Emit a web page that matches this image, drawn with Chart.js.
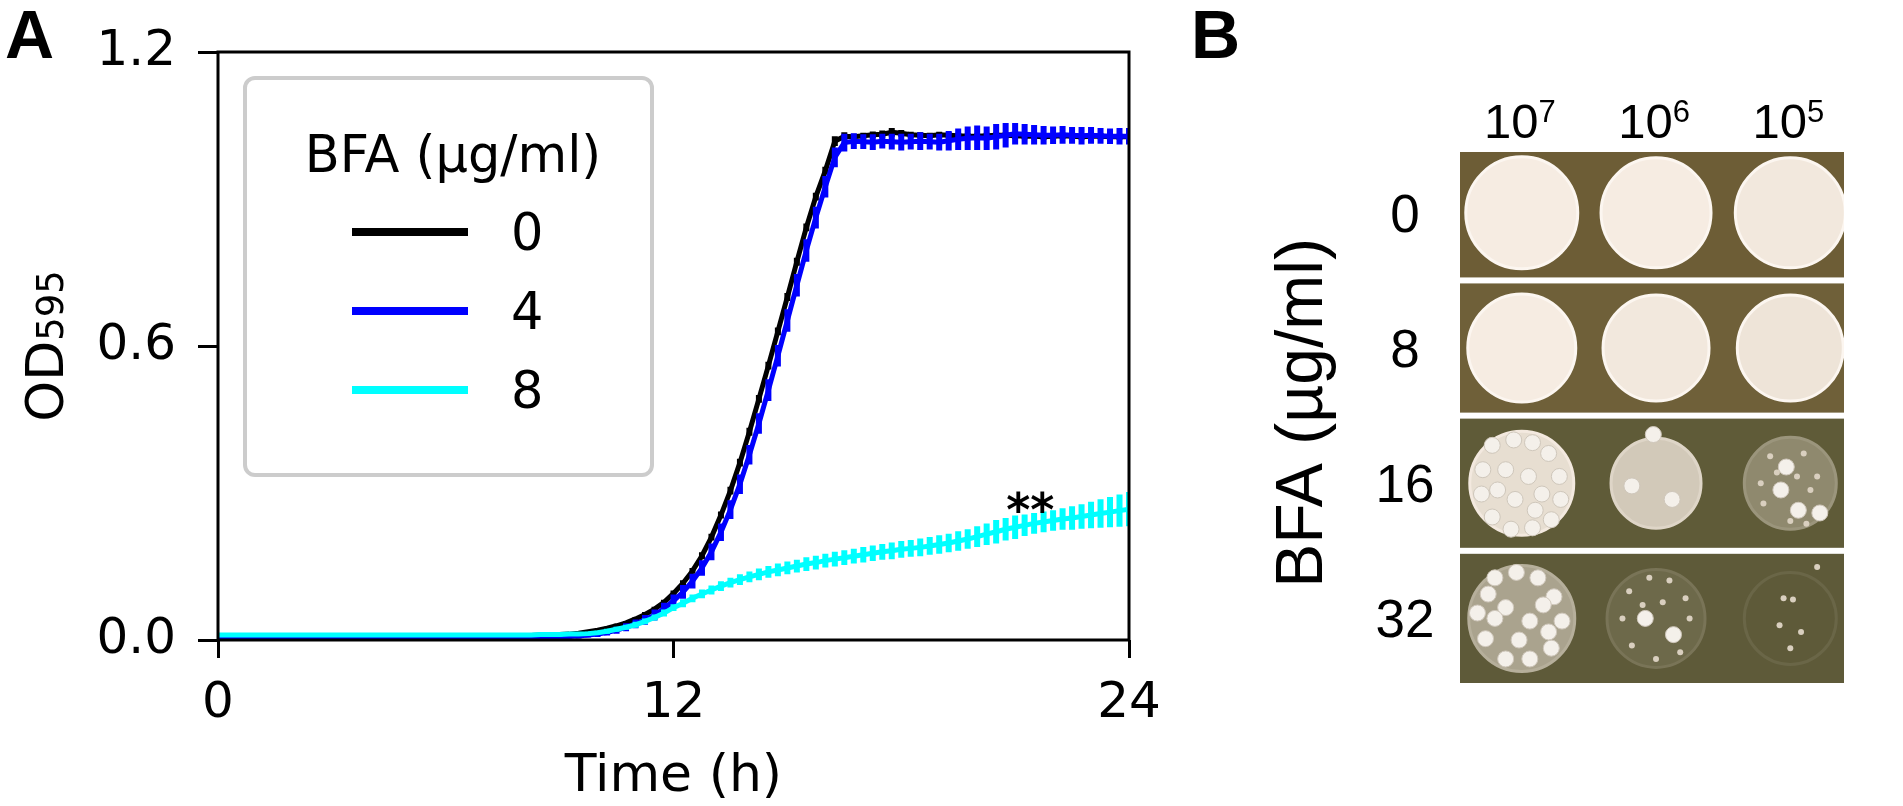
<!DOCTYPE html>
<html>
<head>
<meta charset="utf-8">
<title>BFA growth curves and spot assay</title>
<script src="https://cdn.jsdelivr.net/npm/chart.js@4.4.1/dist/chart.umd.min.js"></script>
<style>
  html, body { margin: 0; padding: 0; background: #fff; }
  body { width: 1903px; height: 806px; position: relative; overflow: hidden; }
  #growth { position: absolute; left: 0; top: 0; }
  #spots { position: absolute; left: 1180px; top: 0; }
</style>
</head>
<body>
<canvas id="growth" width="1180" height="806"></canvas>
<canvas id="spots" width="723" height="806"></canvas>
<script>
// ==========================================
// A. DATA - growth curves (OD595, reading every 15 min)
// ==========================================
const hours = Array.from({ length: 97 }, (_, i) => i * 0.25);
const bfaLegend = ['0', '4', '8'];

const od_bfa0 = [
  0.006, 0.006, 0.006, 0.006, 0.006, 0.006, 0.006, 0.006,
  0.006, 0.006, 0.006, 0.006, 0.006, 0.006, 0.006, 0.006,
  0.006, 0.006, 0.006, 0.006, 0.006, 0.006, 0.006, 0.006,
  0.006, 0.006, 0.006, 0.007, 0.007, 0.007, 0.008, 0.008,
  0.009, 0.009, 0.010, 0.010, 0.011, 0.012, 0.014, 0.017,
  0.020, 0.024, 0.029, 0.035, 0.043, 0.052, 0.063, 0.077,
  0.095, 0.116, 0.141, 0.172, 0.210, 0.255, 0.305, 0.362,
  0.425, 0.492, 0.560, 0.630, 0.700, 0.772, 0.842, 0.905,
  0.958, 1.018, 1.028, 1.027, 1.029, 1.031, 1.032, 1.036,
  1.034, 1.031, 1.030, 1.029, 1.031, 1.030, 1.029, 1.028,
  1.028, 1.029, 1.030, 1.030, 1.029, 1.028, 1.028, 1.027,
  1.028, 1.029, 1.028, 1.027, 1.028, 1.028, 1.027, 1.027,
  1.027
];
const sd_bfa0 = [
  0.002, 0.002, 0.002, 0.002, 0.002, 0.002, 0.002, 0.002,
  0.002, 0.002, 0.002, 0.002, 0.002, 0.002, 0.002, 0.002,
  0.002, 0.002, 0.002, 0.002, 0.002, 0.002, 0.002, 0.002,
  0.002, 0.002, 0.002, 0.002, 0.002, 0.002, 0.002, 0.002,
  0.002, 0.002, 0.002, 0.002, 0.003, 0.003, 0.003, 0.003,
  0.003, 0.003, 0.004, 0.004, 0.004, 0.005, 0.005, 0.005,
  0.006, 0.006, 0.006, 0.007, 0.007, 0.007, 0.008, 0.008,
  0.008, 0.008, 0.008, 0.008, 0.008, 0.008, 0.008, 0.008,
  0.008, 0.010, 0.008, 0.006, 0.006, 0.007, 0.008, 0.009,
  0.007, 0.006, 0.006, 0.006, 0.006, 0.006, 0.006, 0.006,
  0.006, 0.006, 0.006, 0.006, 0.006, 0.006, 0.006, 0.006,
  0.006, 0.006, 0.006, 0.006, 0.006, 0.006, 0.006, 0.006,
  0.006
];

const od_bfa4 = [
  0.004, 0.004, 0.004, 0.004, 0.004, 0.004, 0.004, 0.004,
  0.004, 0.004, 0.004, 0.004, 0.004, 0.004, 0.004, 0.004,
  0.004, 0.004, 0.004, 0.004, 0.004, 0.004, 0.004, 0.004,
  0.004, 0.004, 0.004, 0.004, 0.004, 0.004, 0.004, 0.004,
  0.005, 0.005, 0.005, 0.006, 0.006, 0.007, 0.008, 0.010,
  0.012, 0.015, 0.020, 0.026, 0.033, 0.041, 0.051, 0.064,
  0.080, 0.098, 0.120, 0.147, 0.180, 0.220, 0.266, 0.318,
  0.378, 0.442, 0.510, 0.580, 0.652, 0.724, 0.795, 0.862,
  0.925, 0.985, 1.015, 1.018, 1.017, 1.016, 1.018, 1.017,
  1.016, 1.017, 1.018, 1.017, 1.016, 1.019, 1.022, 1.024,
  1.025, 1.024, 1.027, 1.030, 1.033, 1.032, 1.031, 1.030,
  1.030, 1.031, 1.030, 1.029, 1.030, 1.029, 1.028, 1.028,
  1.028
];
const sd_bfa4 = [
  0.003, 0.003, 0.003, 0.003, 0.003, 0.003, 0.003, 0.003,
  0.003, 0.003, 0.003, 0.003, 0.003, 0.003, 0.003, 0.003,
  0.003, 0.003, 0.003, 0.003, 0.003, 0.003, 0.003, 0.003,
  0.003, 0.003, 0.003, 0.003, 0.003, 0.003, 0.003, 0.003,
  0.003, 0.003, 0.003, 0.003, 0.004, 0.004, 0.005, 0.005,
  0.006, 0.006, 0.007, 0.008, 0.009, 0.010, 0.011, 0.012,
  0.013, 0.014, 0.015, 0.016, 0.017, 0.018, 0.019, 0.020,
  0.020, 0.021, 0.022, 0.022, 0.023, 0.023, 0.023, 0.022,
  0.022, 0.020, 0.018, 0.016, 0.015, 0.016, 0.015, 0.016,
  0.017, 0.016, 0.018, 0.016, 0.017, 0.020, 0.022, 0.024,
  0.025, 0.024, 0.026, 0.025, 0.022, 0.021, 0.020, 0.019,
  0.018, 0.018, 0.017, 0.018, 0.017, 0.016, 0.016, 0.017,
  0.017
];

const od_bfa8 = [
  0.010, 0.010, 0.010, 0.010, 0.010, 0.010, 0.010, 0.010,
  0.010, 0.010, 0.010, 0.010, 0.010, 0.010, 0.010, 0.010,
  0.010, 0.010, 0.010, 0.010, 0.010, 0.010, 0.010, 0.010,
  0.010, 0.010, 0.010, 0.010, 0.010, 0.010, 0.010, 0.010,
  0.010, 0.010, 0.011, 0.011, 0.011, 0.012, 0.012, 0.013,
  0.015, 0.018, 0.022, 0.026, 0.031, 0.038, 0.046, 0.055,
  0.066, 0.075, 0.085, 0.094, 0.102, 0.110, 0.117, 0.123,
  0.129, 0.134, 0.139, 0.143, 0.147, 0.151, 0.155, 0.158,
  0.162, 0.165, 0.168, 0.171, 0.174, 0.177, 0.180, 0.182,
  0.185, 0.187, 0.189, 0.192, 0.195, 0.198, 0.202, 0.206,
  0.211, 0.216, 0.221, 0.226, 0.230, 0.234, 0.238, 0.241,
  0.244, 0.247, 0.249, 0.252, 0.255, 0.258, 0.261, 0.264,
  0.267
];
const sd_bfa8 = [
  0.004, 0.004, 0.004, 0.004, 0.004, 0.004, 0.004, 0.004,
  0.004, 0.004, 0.004, 0.004, 0.004, 0.004, 0.004, 0.004,
  0.004, 0.004, 0.004, 0.004, 0.004, 0.004, 0.004, 0.004,
  0.004, 0.004, 0.004, 0.004, 0.004, 0.004, 0.004, 0.004,
  0.004, 0.004, 0.004, 0.004, 0.004, 0.004, 0.004, 0.004,
  0.004, 0.005, 0.005, 0.005, 0.006, 0.006, 0.006, 0.007,
  0.007, 0.008, 0.008, 0.009, 0.009, 0.010, 0.010, 0.011,
  0.011, 0.012, 0.012, 0.013, 0.013, 0.013, 0.014, 0.014,
  0.014, 0.015, 0.015, 0.015, 0.016, 0.016, 0.016, 0.017,
  0.017, 0.017, 0.018, 0.018, 0.019, 0.019, 0.020, 0.020,
  0.021, 0.022, 0.024, 0.023, 0.024, 0.022, 0.021, 0.021,
  0.021, 0.022, 0.024, 0.025, 0.027, 0.029, 0.031, 0.033,
  0.035
];

// significance mark over the 8 ug/ml curve (time, OD)
const sigMark = { t: 21.4, od: 0.232, text: '**' };

// ==========================================
// B. DATA - spot assay
// ==========================================
const cellsPerSpot = [1e7, 1e6, 1e5];
const bfaDoses = [0, 8, 16, 32];
// growth score per spot (0 = nothing, 1 = full lawn), rows = BFA dose
const growthScore = [
  [1.00, 1.00, 0.97],
  [1.00, 0.97, 0.94],
  [0.90, 0.76, 0.32],
  [0.50, 0.10, 0.00]
];
// large resistant colonies (column, row)
const bigColonies = [
  [-0.22, 1.72], [-0.06, 1.68], [0.08, 1.70], [0.20, 1.78], [0.28, 1.95], [0.29, 2.12],
  [0.22, 2.27], [0.08, 2.33], [-0.08, 2.34], [-0.22, 2.25], [-0.30, 2.08], [-0.29, 1.90],
  [-0.12, 1.90], [0.05, 1.95], [0.15, 2.08], [-0.05, 2.12], [-0.18, 2.05], [0.10, 2.20],
  [0.98, 1.64], [1.12, 2.12], [0.82, 2.02],
  [1.97, 1.88], [1.93, 2.05], [2.06, 2.20], [2.22, 2.22],
  [-0.20, 2.70], [-0.04, 2.66], [0.12, 2.70], [0.24, 2.84], [0.30, 3.02], [0.22, 3.22],
  [0.06, 3.30], [-0.12, 3.30], [-0.27, 3.15], [-0.33, 2.96], [-0.12, 2.92], [0.06, 3.02],
  [-0.02, 3.16], [0.16, 2.90], [-0.25, 2.82], [0.20, 3.10], [-0.20, 3.00],
  [0.92, 3.00], [1.13, 3.12]
];
// small micro-colonies
const smallColonies = [
  [1.85, 1.80], [2.10, 1.78], [2.20, 1.95], [1.80, 2.15], [2.00, 2.28], [2.15, 2.05],
  [1.90, 1.92], [2.05, 1.95], [1.78, 2.00], [2.12, 2.30],
  [0.80, 2.80], [0.95, 2.70], [1.10, 2.72], [1.22, 2.85], [1.25, 3.00], [0.75, 3.00],
  [0.82, 3.20], [1.00, 3.30], [1.18, 3.25], [0.90, 2.90], [1.05, 2.88],
  [1.95, 2.85], [2.02, 2.86], [1.92, 3.05], [2.08, 3.10], [2.00, 3.22], [2.20, 2.62]
];

// ==========================================
// C. PANEL A - growth curve chart
// ==========================================
const FONT_A = 'DejaVu Sans';

const errorBars = {
    id: 'errorBars',
    afterDatasetDraw(chart, args) {
        const ds = chart.data.datasets[args.index];
        if (!ds.errors) return;
        const { ctx, chartArea: a, scales: { x, y } } = chart;
        ctx.save();
        ctx.beginPath();
        ctx.rect(a.left, a.top, a.width, a.height);
        ctx.clip();
        ctx.strokeStyle = ds.borderColor;
        ctx.lineWidth = 6;
        ctx.beginPath();
        ds.data.forEach((p, i) => {
            const px = x.getPixelForValue(p.x);
            ctx.moveTo(px, y.getPixelForValue(p.y - ds.errors[i]));
            ctx.lineTo(px, y.getPixelForValue(p.y + ds.errors[i]));
        });
        ctx.stroke();
        ctx.restore();
    }
};

const panelA = {
    id: 'panelA',
    afterDatasetsDraw(chart) {
        const { ctx, chartArea: a, scales: { x, y } } = chart;
        ctx.save();
        ctx.strokeStyle = '#000';
        ctx.lineWidth = 3;
        ctx.strokeRect(a.left, a.top, a.width, a.height);
        ctx.fillStyle = '#000';
        ctx.font = 'bold 46px "' + FONT_A + '"';
        ctx.textAlign = 'center';
        ctx.textBaseline = 'alphabetic';
        ctx.fillText(sigMark.text, x.getPixelForValue(sigMark.t), y.getPixelForValue(sigMark.od));
        ctx.restore();
    },
    afterDraw(chart) {
        const { ctx, chartArea: a } = chart;
        ctx.save();
        ctx.fillStyle = '#000';

        // panel letter
        ctx.font = 'bold 68px "Liberation Sans", Arial';
        ctx.textAlign = 'left';
        ctx.textBaseline = 'alphabetic';
        ctx.fillText('A', 5, 58);

        // y title OD595 (595 in smaller type)
        ctx.font = '52px "' + FONT_A + '"';
        const wOD = ctx.measureText('OD').width;
        ctx.font = '37px "' + FONT_A + '"';
        const wNum = ctx.measureText('595').width;
        ctx.save();
        ctx.translate(63, (a.top + a.bottom) / 2 + (wOD + wNum) / 2);
        ctx.rotate(-Math.PI / 2);
        ctx.font = '52px "' + FONT_A + '"';
        ctx.fillText('OD', 0, 0);
        ctx.font = '37px "' + FONT_A + '"';
        ctx.fillText('595', wOD, 0);
        ctx.restore();

        // legend
        const box = { x: 245, y: 78, w: 407, h: 397 };
        ctx.beginPath();
        ctx.roundRect(box.x, box.y, box.w, box.h, 10);
        ctx.fillStyle = 'rgba(255,255,255,0.85)';
        ctx.fill();
        ctx.strokeStyle = '#cccccc';
        ctx.lineWidth = 4;
        ctx.stroke();

        ctx.fillStyle = '#000';
        ctx.font = '51px "' + FONT_A + '"';
        ctx.textAlign = 'center';
        ctx.fillText('BFA (\u00b5g/ml)', 453, 172);

        ctx.textAlign = 'left';
        chart.data.datasets.forEach((ds, k) => {
            const ly = 232 + k * 79;
            ctx.strokeStyle = ds.borderColor;
            ctx.lineWidth = 8;
            ctx.beginPath();
            ctx.moveTo(352, ly);
            ctx.lineTo(468, ly);
            ctx.stroke();
            ctx.fillStyle = '#000';
            ctx.font = '51px "' + FONT_A + '"';
            ctx.fillText(ds.label, 511, ly + 18);
        });
        ctx.restore();
    }
};

function series(values) {
    return values.map((v, i) => ({ x: hours[i], y: v }));
}

const growthChart = new Chart(document.getElementById('growth'), {
    type: 'line',
    data: {
        datasets: [
            { label: bfaLegend[0], data: series(od_bfa0), errors: sd_bfa0, borderColor: '#000000', order: 3 },
            { label: bfaLegend[1], data: series(od_bfa4), errors: sd_bfa4, borderColor: '#0000ff', order: 2 },
            { label: bfaLegend[2], data: series(od_bfa8), errors: sd_bfa8, borderColor: '#00ffff', order: 1 }
        ]
    },
    options: {
        responsive: false,
        animation: false,
        devicePixelRatio: 1,
        events: [],
        layout: { padding: { top: 50, right: 51, left: 0, bottom: 0 } },
        elements: {
            line: { borderWidth: 5, tension: 0, fill: false },
            point: { radius: 0 }
        },
        scales: {
            x: {
                type: 'linear', min: 0, max: 24,
                afterFit: (s) => { s.height = 166; },
                ticks: { stepSize: 12, color: '#000', padding: 16, font: { family: FONT_A, size: 50 } },
                grid: { drawOnChartArea: false, drawTicks: true, tickLength: 18, tickWidth: 3, tickColor: '#000' },
                border: { display: false },
                title: { display: true, text: 'Time (h)', color: '#000', padding: { top: 0, bottom: 3 },
                         font: { family: FONT_A, size: 52, lineHeight: 1 } }
            },
            y: {
                type: 'linear', min: 0, max: 1.2,
                afterFit: (s) => { s.width = 218; },
                ticks: { stepSize: 0.6, color: '#000', padding: 22, font: { family: FONT_A, size: 50 },
                         callback: (v) => v.toFixed(1) },
                grid: { drawOnChartArea: false, drawTicks: true, tickLength: 20, tickWidth: 3, tickColor: '#000' },
                border: { display: false }
            }
        },
        plugins: { legend: { display: false }, tooltip: { enabled: false } }
    },
    plugins: [errorBars, panelA]
});

// ==========================================
// D. PANEL B - spot assay drawn as scatter
// ==========================================
const FONT_B = '"Liberation Sans", Arial';
const agarColors = ['#6d5d36', '#6f6039', '#5f5b38', '#5e5a39'];
const creamColor = [246, 236, 226];
const spotRadius = [[56, 55, 55], [54, 53, 53], [52, 45, 46], [53, 49, 46]];

function hexToRgb(h) {
    return [1, 3, 5].map(i => parseInt(h.slice(i, i + 2), 16));
}
function spotColor(row, g) {
    const agar = hexToRgb(agarColors[row]);
    const c = agar.map((v, i) => Math.round(v + (creamColor[i] - v) * g));
    return 'rgb(' + c.join(',') + ')';
}

const spotData = [];
bfaDoses.forEach((dose, r) => {
    cellsPerSpot.forEach((n, c) => {
        spotData.push({ x: c, y: r, g: growthScore[r][c] });
    });
});

const plateBackground = {
    id: 'plateBackground',
    beforeDatasetsDraw(chart) {
        const { ctx, chartArea: a, scales: { y } } = chart;
        ctx.save();
        bfaDoses.forEach((dose, r) => {
            const top = Math.max(a.top, y.getPixelForValue(r - 0.5) + 3);
            const bot = Math.min(a.bottom, y.getPixelForValue(r + 0.5) - 3);
            ctx.fillStyle = agarColors[r];
            ctx.fillRect(a.left, top, a.width, bot - top);
        });
        ctx.restore();
    },
    afterDraw(chart) {
        const { ctx, chartArea: a, scales: { x, y } } = chart;
        ctx.save();
        ctx.fillStyle = '#000';
        ctx.textBaseline = 'alphabetic';

        ctx.font = 'bold 68px ' + FONT_B;
        ctx.textAlign = 'left';
        ctx.fillText('B', 11, 58);

        // dilution headers 10^n
        cellsPerSpot.forEach((n, c) => {
            const exp = String(Math.round(Math.log10(n)));
            ctx.font = '49px ' + FONT_B;
            const wBase = ctx.measureText('10').width;
            ctx.font = '31px ' + FONT_B;
            const wExp = ctx.measureText(exp).width;
            const left = x.getPixelForValue(c) - (wBase + wExp) / 2 - 2;
            ctx.textAlign = 'left';
            ctx.font = '49px ' + FONT_B;
            ctx.fillText('10', left, 138);
            ctx.font = '31px ' + FONT_B;
            ctx.fillText(exp, left + wBase, 122);
        });

        // BFA dose row labels
        ctx.font = '53px ' + FONT_B;
        ctx.textAlign = 'center';
        bfaDoses.forEach((dose, r) => {
            ctx.fillText(String(dose), 225, y.getPixelForValue(r) + 19);
        });

        // rotated axis title
        ctx.save();
        ctx.translate(142, (a.top + a.bottom) / 2 - 6);
        ctx.rotate(-Math.PI / 2);
        ctx.font = '66px ' + FONT_B;
        ctx.textAlign = 'center';
        ctx.fillText('BFA (\u00b5g/ml)', 0, 0);
        ctx.restore();
        ctx.restore();
    }
};

const spotChart = new Chart(document.getElementById('spots'), {
    type: 'scatter',
    data: {
        datasets: [
            {
                label: 'spots', data: spotData, order: 3,
                pointRadius: (ctx) => spotRadius[ctx.raw.y][ctx.raw.x],
                backgroundColor: (ctx) => spotColor(ctx.raw.y, ctx.raw.g),
                borderColor: (ctx) => ctx.raw.g > 0.9 ? '#fcf6f0' : spotColor(ctx.raw.y, Math.min(1, ctx.raw.g + 0.08)),
                borderWidth: 3
            },
            {
                label: 'colonies', data: bigColonies.map(p => ({ x: p[0], y: p[1] })), order: 2,
                pointRadius: 8, backgroundColor: '#f4f0ea', borderColor: '#cfc7bb', borderWidth: 1
            },
            {
                label: 'micro', data: smallColonies.map(p => ({ x: p[0], y: p[1] })), order: 1,
                pointRadius: 3, backgroundColor: '#d9cfbf', borderWidth: 0
            }
        ]
    },
    options: {
        responsive: false,
        animation: false,
        devicePixelRatio: 1,
        events: [],
        layout: { padding: { left: 280, right: 4, top: 152, bottom: 120 } },
        scales: {
            x: { type: 'linear', min: -0.46, max: 2.4, display: false },
            y: { type: 'linear', min: -0.45, max: 3.5, reverse: true, display: false }
        },
        plugins: { legend: { display: false }, tooltip: { enabled: false } }
    },
    plugins: [plateBackground]
});
</script>
</body>
</html>
